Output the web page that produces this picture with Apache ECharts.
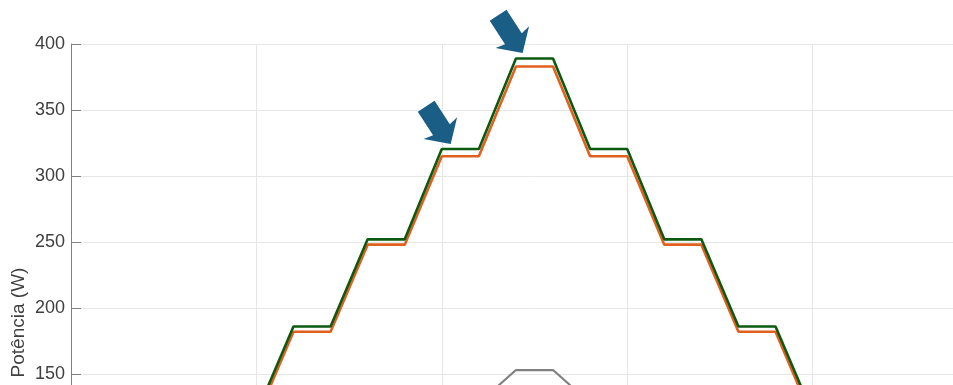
<!DOCTYPE html>
<html>
<head>
<meta charset="utf-8">
<script src="https://cdn.jsdelivr.net/npm/echarts@6/dist/echarts.min.js"></script>
<style>
  html, body { margin: 0; padding: 0; background: #fff; overflow: hidden; width: 953px; height: 385px; }
  #chart { width: 1100px; height: 700px; }
</style>
</head>
<body>
<div id="chart"></div>
<script>
// Time steps (s): ramps of 1 s between 1 s plateaus
const time = [0, 1, 2, 3, 4, 5, 6, 7, 8, 9, 10, 11, 12, 13, 14, 15, 16, 17, 18, 19, 20, 21, 22, 23, 24, 25];
// Available power (W)
const powerAvailable = [0, 0, 54, 54, 120, 120, 186, 186, 252, 252, 320.5, 320.5, 389, 389, 320.5, 320.5, 252, 252, 186, 186, 120, 120, 54, 54, 0, 0];
// Extracted power (W)
const powerExtracted = [0, 0, 51, 51, 116, 116, 182, 182, 248, 248, 315, 315, 383, 383, 315, 315, 248, 248, 182, 182, 116, 116, 51, 51, 0, 0];
// Auxiliary curve (W)
const powerAux = [0, 0, 26, 26, 51, 51, 77, 77, 102, 102, 128, 128, 153, 153, 128, 128, 102, 102, 77, 77, 51, 51, 26, 26, 0, 0];
// Annotation arrow tips [time, power]
const arrowTips = [[10.24, 324.2], [12.18, 393.2]];
const yTicks = { min: 0, max: 400, step: 50 };
const xTicks = { min: 0, max: 25, step: 5 };

const pair = arr => time.map((t, i) => [t, arr[i]]);

const chart = echarts.init(document.getElementById('chart'), null, { renderer: 'canvas' });
const font = 'Liberation Sans, Arial, Helvetica, sans-serif';

chart.setOption({
  animation: false,
  grid: { left: 71, right: 102, top: 44, bottom: 128, containLabel: false, outerBoundsMode: 'none' },
  xAxis: {
    type: 'value', min: xTicks.min, max: xTicks.max, interval: xTicks.step,
    axisLine: { show: true, lineStyle: { color: '#808080', width: 1 } },
    axisTick: { show: true, inside: true, length: 10, lineStyle: { color: '#808080' } },
    axisLabel: { color: '#404040', fontSize: 18, fontFamily: font },
    splitLine: { show: true, lineStyle: { color: '#e6e6e6', width: 1 } }
  },
  yAxis: {
    type: 'value', min: yTicks.min, max: yTicks.max, interval: yTicks.step,
    name: 'Potência (W)', nameLocation: 'middle', nameGap: 43, nameMoveOverlap: false,
    nameTextStyle: { color: '#404040', fontSize: 19, fontFamily: font, padding: [0, 29, 0, 0] },
    axisLine: { show: true, lineStyle: { color: '#808080', width: 1 } },
    axisTick: { show: true, inside: true, length: 10, lineStyle: { color: '#808080' } },
    axisLabel: { color: '#404040', fontSize: 18, fontFamily: font, margin: 6 },
    splitLine: { show: true, lineStyle: { color: '#e6e6e6', width: 1 } }
  },
  series: [
    {
      name: 'aux', type: 'line', data: pair(powerAux), showSymbol: false,
      lineStyle: { color: '#808080', width: 2.2 }, z: 2
    },
    {
      name: 'extracted', type: 'line', data: pair(powerExtracted), showSymbol: false,
      lineStyle: { color: '#e2601f', width: 2.6 }, z: 3
    },
    {
      name: 'available', type: 'line', data: pair(powerAvailable), showSymbol: false,
      lineStyle: { color: '#0c5a10', width: 2.6 }, z: 4
    }
  ]
});

// Block arrows pointing down-right at the plateau corners
function arrowPoints(tip) {
  const a = 57 * Math.PI / 180;
  const d = [Math.cos(a), Math.sin(a)];
  const p = [-Math.sin(a), Math.cos(a)];
  const local = [[0, 0], [-19, 20], [-17, 10], [-45, 10], [-45, -10], [-17, -10], [-19, -20]];
  return local.map(([u, v]) => [tip[0] + u * d[0] + v * p[0], tip[1] + u * d[1] + v * p[1]]);
}
const graphics = arrowTips.map(t => {
  const px = chart.convertToPixel({ gridIndex: 0 }, t);
  return {
    type: 'polygon', z: 10,
    shape: { points: arrowPoints(px) },
    style: { fill: '#1b5e85', stroke: null }
  };
});
chart.setOption({ graphic: graphics });
</script>
</body>
</html>
